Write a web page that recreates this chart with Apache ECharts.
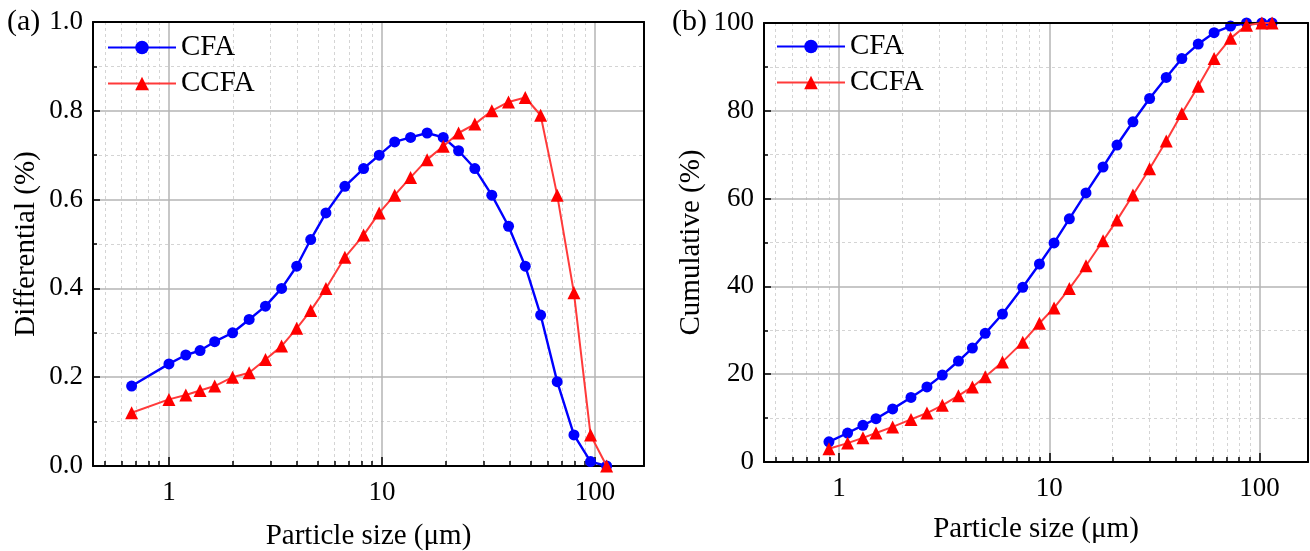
<!DOCTYPE html>
<html><head><meta charset="utf-8">
<script src="https://cdn.jsdelivr.net/npm/echarts@6/dist/echarts.min.js"></script>
<style>html,body{margin:0;padding:0;background:#fff}#c{width:1310px;height:551px}</style>
</head><body><div id="c"></div>
<script>
// ---- data (a) differential ----
const sizeA = [0.668, 1.0, 1.2, 1.4, 1.64, 1.99, 2.38, 2.84, 3.38, 3.98, 4.63, 5.46, 6.70, 8.20, 9.71, 11.48, 13.63, 16.3, 19.4, 22.9, 27.3, 32.8, 39.3, 47.1, 55.6, 66.5, 79.7, 95.4, 113.5];
const cfaDiff = [0.18, 0.23, 0.25, 0.26, 0.28, 0.30, 0.33, 0.36, 0.40, 0.45, 0.51, 0.57, 0.63, 0.67, 0.70, 0.73, 0.74, 0.75, 0.74, 0.71, 0.67, 0.61, 0.54, 0.45, 0.34, 0.19, 0.07, 0.01, 0.0];
const ccfaDiff = [0.12, 0.15, 0.16, 0.17, 0.18, 0.20, 0.21, 0.24, 0.27, 0.31, 0.35, 0.40, 0.47, 0.52, 0.57, 0.61, 0.65, 0.69, 0.72, 0.75, 0.77, 0.80, 0.82, 0.83, 0.79, 0.61, 0.39, 0.07, 0.0];
// ---- data (b) cumulative ----
const sizeB = [0.896, 1.099, 1.30, 1.50, 1.80, 2.20, 2.62, 3.10, 3.70, 4.31, 4.96, 5.99, 7.48, 8.98, 10.54, 12.46, 14.95, 18.02, 21.0, 25.0, 30.0, 36.0, 42.7, 51.1, 60.8, 72.8, 86.7, 102.6, 114.7];
const cfaCum = [4.6, 6.6, 8.35, 9.86, 12.1, 14.7, 17.1, 19.8, 23.0, 25.95, 29.3, 33.7, 39.8, 45.1, 49.9, 55.4, 61.3, 67.2, 72.2, 77.5, 82.8, 87.6, 91.9, 95.2, 97.8, 99.3, 100, 100, 100];
const ccfaCum = [3.0, 4.3, 5.5, 6.6, 8.0, 9.7, 11.15, 12.9, 15.1, 17.1, 19.4, 22.8, 27.3, 31.6, 35.1, 39.5, 44.7, 50.4, 55.1, 60.8, 66.8, 73.1, 79.4, 85.6, 91.9, 96.5, 99.5, 100, 100];
// ---- ticks ----
const majorX = [1, 10, 100];
const minorX = [0.5, 0.6, 0.7, 0.8, 0.9, 2, 3, 4, 5, 6, 7, 8, 9, 20, 30, 40, 50, 60, 70, 80, 90];
const seriesNames = ['CFA', 'CCFA'];

const FONT = 'Liberation Serif, Times New Roman, serif';
const X_MIN = 0.44, X_MAX = 170;
const grids = [
  {left: 93, top: 22, width: 551, height: 444, outerBoundsMode: 'none', containLabel: false},
  {left: 764, top: 23, width: 544, height: 439, outerBoundsMode: 'none', containLabel: false}
];

function xAxesFor(g) {
  return [
    { gridIndex: g, type: 'log', position: 'bottom', min: X_MIN, max: X_MAX, logBase: 10,
      name: 'Particle size (μm)', nameLocation: 'middle', nameGap: g === 0 ? 56 : 53,
      nameTextStyle: {fontFamily: FONT, fontSize: 29, color: '#000'},
      axisLine: {show: true, lineStyle: {color: '#000', width: 2}},
      axisTick: {show: true, inside: true, length: 9, customValues: majorX, lineStyle: {color: '#000', width: 1.5}},
      axisLabel: {show: true, customValues: majorX, margin: 13, fontFamily: FONT, fontSize: 27, color: '#000', formatter: v => String(v)},
      splitLine: {show: true, lineStyle: {color: '#b5b5b5', width: 1.5}},
      z: 3 },
    { gridIndex: g, type: 'log', position: 'bottom', min: X_MIN, max: X_MAX, logBase: 10,
      axisLine: {show: false},
      axisTick: {show: true, inside: true, length: 5, customValues: minorX, lineStyle: {color: '#000', width: 1.5}},
      axisLabel: {show: false},
      splitLine: {show: true, lineStyle: {color: '#d4d4d4', width: 1, type: [3, 3]}},
      z: 2 },
    { gridIndex: g, type: 'value', position: 'top', min: 0, max: 1,
      axisLine: {show: true, onZero: false, lineStyle: {color: '#000', width: 2}},
      axisTick: {show: false}, axisLabel: {show: false}, splitLine: {show: false}, z: 5 }
  ];
}
function yAxesFor(g) {
  const isA = g === 0;
  return [
    { gridIndex: g, type: 'value', position: 'left', min: 0, max: isA ? 1 : 100, interval: isA ? 0.2 : 20,
      name: isA ? 'Differential (%)' : 'Cumulative (%)', nameLocation: 'middle', nameGap: isA ? 52 : 58,
      nameTextStyle: {fontFamily: FONT, fontSize: 29, color: '#000'},
      axisLine: {show: true, onZero: false, lineStyle: {color: '#000', width: 2}},
      axisTick: {show: true, inside: true, length: 7, lineStyle: {color: '#000', width: 1.5}},
      minorTick: {show: true, splitNumber: 2, length: 4, lineStyle: {color: '#000', width: 1.5}},
      axisLabel: {margin: 10, fontFamily: FONT, fontSize: 27, color: '#000', formatter: v => isA ? v.toFixed(1) : String(v)},
      splitLine: {show: true, showMinLine: false, showMaxLine: false, lineStyle: {color: '#b5b5b5', width: 1.5}},
      minorSplitLine: {show: true, lineStyle: {color: '#d4d4d4', width: 1, type: [3, 3]}},
      z: 3 },
    { gridIndex: g, type: 'value', position: 'right', min: 0, max: 1,
      axisLine: {show: true, onZero: false, lineStyle: {color: '#000', width: 2}},
      axisTick: {show: false}, axisLabel: {show: false}, splitLine: {show: false}, z: 5 }
  ];
}

function mkSeries(name, xs, ys, xi, yi, isBlue) {
  return {
    name, type: 'line', xAxisIndex: xi, yAxisIndex: yi,
    data: xs.map((x, i) => [x, ys[i]]),
    symbol: isBlue ? 'circle' : 'triangle', symbolSize: isBlue ? 11 : 13,
    itemStyle: {color: isBlue ? '#0000ff' : '#ff0000'},
    lineStyle: {color: isBlue ? '#0000ff' : '#ff3a3a', width: isBlue ? 2.4 : 2},
    clip: true, z: isBlue ? 4 : 5, animation: false
  };
}

const legendBase = {
  orient: 'vertical', padding: 0, itemGap: 7, itemWidth: 68, itemHeight: 17,
  textStyle: {fontFamily: FONT, fontSize: 29, color: '#000', padding: [0, 0, 0, 0]},
  data: seriesNames
};

const option = {
  animation: false,
  backgroundColor: '#fff',
  title: [
    {text: '(a)', left: 7, top: 7, padding: 0, textStyle: {fontFamily: FONT, fontSize: 30, fontWeight: 'normal', color: '#000'}},
    {text: '(b)', left: 672, top: 7, padding: 0, textStyle: {fontFamily: FONT, fontSize: 30, fontWeight: 'normal', color: '#000'}}
  ],
  grid: grids,
  legend: [
    Object.assign({}, legendBase, {left: 107, top: 33}),
    Object.assign({}, legendBase, {left: 776, top: 32})
  ],
  xAxis: xAxesFor(0).concat(xAxesFor(1)),
  yAxis: yAxesFor(0).concat(yAxesFor(1)),
  series: [
    mkSeries(seriesNames[0], sizeA, cfaDiff, 0, 0, true),
    mkSeries(seriesNames[1], sizeA, ccfaDiff, 0, 0, false),
    mkSeries(seriesNames[0], sizeB, cfaCum, 3, 2, true),
    mkSeries(seriesNames[1], sizeB, ccfaCum, 3, 2, false)
  ]
};
const chart = echarts.init(document.getElementById('c'), null, {renderer: 'canvas'});
chart.setOption(option);
</script></body></html>
